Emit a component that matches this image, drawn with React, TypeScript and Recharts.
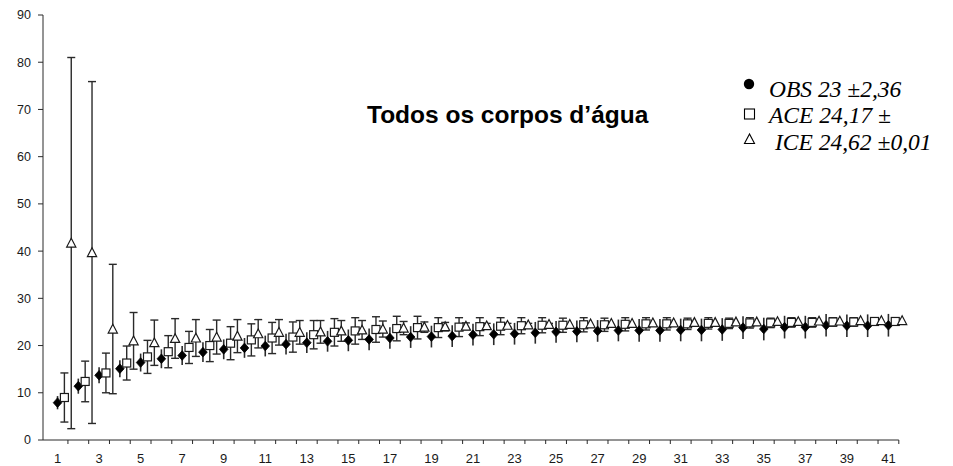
import React from "react";
import {
  ComposedChart,
  Scatter,
  XAxis,
  YAxis,
  ErrorBar,
  ReferenceLine,
  Customized,
} from "recharts";

// Number of samples pooled (1..41)
const samples = [
  1, 2, 3, 4, 5, 6, 7, 8, 9, 10, 11, 12, 13, 14, 15, 16, 17, 18, 19, 20, 21,
  22, 23, 24, 25, 26, 27, 28, 29, 30, 31, 32, 33, 34, 35, 36, 37, 38, 39, 40,
  41,
];

// Observed richness (mean, sd)
const obsMean = [
  7.9, 11.4, 13.7, 15.1, 16.4, 17.2, 17.9, 18.6, 19.2, 19.5, 19.9, 20.3, 20.6,
  20.9, 21.1, 21.3, 21.6, 21.8, 21.9, 22.0, 22.3, 22.4, 22.5, 22.7, 22.9, 23.0,
  23.1, 23.2, 23.2, 23.2, 23.3, 23.3, 23.4, 23.8, 23.5, 23.9, 23.9, 24.3, 24.2,
  24.2, 24.3,
];
const obsSd = [
  1.4, 1.6, 1.7, 1.8, 1.9, 2.0, 2.0, 2.1, 2.1, 2.1, 2.2, 2.2, 2.2, 2.2, 2.3,
  2.3, 2.3, 2.3, 2.3, 2.3, 2.3, 2.3, 2.3, 2.3, 2.3, 2.3, 2.3, 2.3, 2.4, 2.4,
  2.4, 2.4, 2.4, 2.4, 2.4, 2.4, 2.4, 2.4, 2.4, 2.4, 2.4,
];

// ACE estimator (mean, sd)
const aceMean = [
  9.0, 12.4, 14.2, 16.3, 17.6, 18.7, 19.6, 20.0, 20.5, 21.2, 21.6, 21.8, 22.3,
  22.8, 23.1, 23.4, 23.6, 23.8, 23.8, 23.9, 24.0, 24.1, 24.2, 24.3, 24.3, 24.4,
  24.4, 24.5, 24.6, 24.6, 24.6, 24.7, 24.7, 24.8, 24.8, 24.9, 24.9, 25.0, 25.0,
  25.1, 25.1,
];
const aceSd = [
  5.2, 4.3, 4.2, 3.6, 3.5, 3.4, 3.4, 3.4, 3.5, 3.4, 3.3, 3.2, 3.0, 2.9, 2.8,
  2.7, 2.6, 2.4, 2.1, 2.0, 1.9, 1.8, 1.7, 1.6, 1.5, 1.5, 1.4, 1.4, 1.3, 1.3,
  1.2, 1.2, 1.1, 1.1, 1.0, 1.0, 1.0, 0.9, 0.9, 0, 0,
];

// ICE estimator (mean, sd)
const iceMean = [
  41.7, 39.7, 23.5, 21.0, 20.6, 21.5, 21.6, 21.8, 22.0, 22.5, 22.8, 22.8, 22.9,
  23.1, 23.3, 23.5, 23.7, 23.9, 24.0, 24.1, 24.2, 24.3, 24.4, 24.5, 24.5, 24.6,
  24.7, 24.7, 24.8, 24.8, 24.9, 24.9, 25.0, 25.0, 25.1, 25.1, 25.2, 25.2, 25.3,
  25.3, 25.3,
];
const iceSd = [
  39.3, 36.2, 13.7, 6.0, 4.8, 4.2, 3.9, 3.6, 3.5, 3.0, 2.7, 2.5, 2.4, 2.2, 2.0,
  1.7, 1.4, 1.1, 0.9, 0.7, 0.5, 0.4, 0.3, 0.2, 0, 0, 0, 0, 0, 0, 0, 0, 0, 0, 0,
  0, 0, 0, 0, 0, 0,
];

const yTicks = [0, 10, 20, 30, 40, 50, 60, 70, 80, 90];
const xLabels = [
  1, 3, 5, 7, 9, 11, 13, 15, 17, 19, 21, 23, 25, 27, 29, 31, 33, 35, 37, 39, 41,
];

const title = "Todos os corpos d\u2019água";
const legendLabels = ["OBS 23 \u00b12,36", "ACE 24,17 \u00b1", "ICE 24,62 \u00b10,01"];

// Each estimator is drawn side by side within its sample slot
const SHIFT_OBS = 0;
const SHIFT_ACE = 0.33;
const SHIFT_ICE = 0.66;

const build = (mean: number[], sd: number[], shift: number) =>
  samples.map((s, i) => ({ x: s + shift, y: mean[i], err: sd[i] }));

const obsData = build(obsMean, obsSd, SHIFT_OBS);
const aceData = build(aceMean, aceSd, SHIFT_ACE);
const iceData = build(iceMean, iceSd, SHIFT_ICE);

// boundaries between samples carry tick marks; odd sample numbers carry labels
const boundaryTicks = samples.map((s) => s + 0.5);
const xTicks = [...xLabels, ...boundaryTicks].sort((a, b) => a - b);

const INK = "#1a1a1a";
const LINE = "#2a2a2a";
const SANS = "'Liberation Sans', Arial, Helvetica, sans-serif";
const SERIF = "'Liberation Serif', 'Times New Roman', Times, serif";

const Diamond = (p: any) => {
  const { cx, cy } = p;
  return (
    <polygon
      points={`${cx},${cy - 4.8} ${cx + 4.3},${cy} ${cx},${cy + 4.8} ${cx - 4.3},${cy}`}
      fill="#000"
      stroke="#000"
      strokeWidth={0.8}
    />
  );
};

const Square = (p: any) => {
  const { cx, cy } = p;
  return (
    <rect
      x={cx - 4}
      y={cy - 4}
      width={8}
      height={8}
      fill="#fff"
      stroke={INK}
      strokeWidth={1.2}
    />
  );
};

const Triangle = (p: any) => {
  const { cx, cy } = p;
  return (
    <polygon
      points={`${cx},${cy - 4.8} ${cx + 4.6},${cy + 4} ${cx - 4.6},${cy + 4}`}
      fill="#fff"
      stroke={INK}
      strokeWidth={1.2}
    />
  );
};

const XTick = (props: any) => {
  const { x, y, payload } = props;
  const v = payload.value;
  if (Number.isInteger(v)) {
    return (
      <text
        x={x}
        y={y + 23}
        textAnchor="middle"
        fontSize={13}
        fontFamily={SANS}
        fill={INK}
      >
        {v}
      </text>
    );
  }
  return <line x1={x} y1={y} x2={x} y2={y + 4} stroke={LINE} strokeWidth={1} />;
};

const Annotations = () => (
  <g>
    <text
      x={367}
      y={123}
      fontFamily={SANS}
      fontWeight="bold"
      fontSize={24.5}
      fill="#000"
    >
      {title}
    </text>
    <circle cx={749} cy={84} r={5.2} fill="#000" />
    <text x={769} y={97} fontFamily={SERIF} fontStyle="italic" fontSize={23.5} fill="#000">
      {legendLabels[0]}
    </text>
    <rect x={744.5} y={109} width={10} height={10} fill="#fff" stroke="#000" strokeWidth={1.1} />
    <text x={769} y={123} fontFamily={SERIF} fontStyle="italic" fontSize={23.5} fill="#000">
      {legendLabels[1]}
    </text>
    <polygon
      points="749.5,134 744.5,143.5 754.5,143.5"
      fill="#fff"
      stroke="#000"
      strokeWidth={1.1}
    />
    <text x={775} y={150} fontFamily={SERIF} fontStyle="italic" fontSize={23.5} fill="#000">
      {legendLabels[2]}
    </text>
  </g>
);

export default function App() {
  return (
    <div
      style={{
        position: "absolute",
        left: 0,
        top: 0,
        width: 953,
        height: 466,
        background: "#fff",
      }}
    >
      <ComposedChart
        width={953}
        height={466}
        margin={{ top: 15, right: 49, bottom: 0, left: 0 }}
      >
        <XAxis
          type="number"
          dataKey="x"
          domain={[0.3, 41.75]}
          ticks={xTicks}
          interval={0}
          tick={<XTick />}
          tickLine={false}
          tickSize={0}
          tickMargin={0}
          axisLine={false}
          height={26}
        />
        <YAxis
          type="number"
          dataKey="y"
          domain={[0, 90]}
          ticks={yTicks}
          interval={0}
          width={43}
          tickSize={5}
          tickMargin={7}
          tick={{ fontSize: 12.5, fill: INK, fontFamily: SANS }}
          axisLine={{ stroke: LINE, strokeWidth: 1 }}
          tickLine={{ stroke: LINE, strokeWidth: 1 }}
        />
        <ReferenceLine
          segment={[
            { x: 0.3, y: 0 },
            { x: 41.5, y: 0 },
          ]}
          stroke={LINE}
          strokeWidth={1}
        />
        <Scatter data={obsData} shape={Diamond} isAnimationActive={false}>
          <ErrorBar dataKey="err" direction="y" width={0} stroke={LINE} strokeWidth={1.6} />
        </Scatter>
        <Scatter data={aceData} shape={Square} isAnimationActive={false}>
          <ErrorBar dataKey="err" direction="y" width={4} stroke={LINE} strokeWidth={1.4} />
        </Scatter>
        <Scatter data={iceData} shape={Triangle} isAnimationActive={false}>
          <ErrorBar dataKey="err" direction="y" width={4} stroke={LINE} strokeWidth={1.4} />
        </Scatter>
        <Customized component={Annotations} />
      </ComposedChart>
    </div>
  );
}
